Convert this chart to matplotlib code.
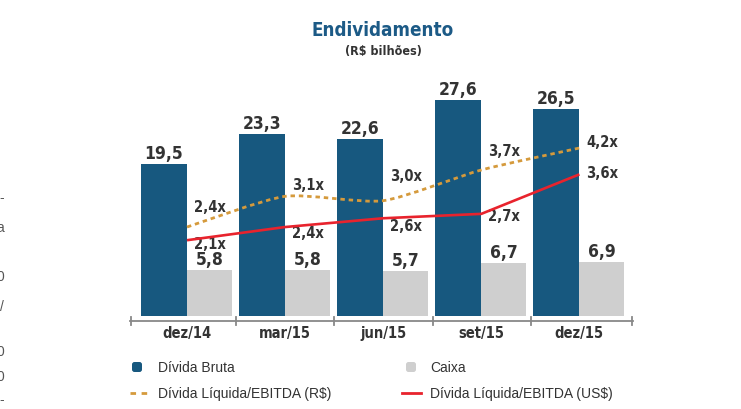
import matplotlib
matplotlib.use("Agg")
import matplotlib.pyplot as plt
from matplotlib.lines import Line2D
from matplotlib.patches import FancyBboxPatch, PathPatch
from matplotlib.path import Path
from matplotlib import font_manager as fm
from matplotlib import patheffects as pe

categories = ["dez/14", "mar/15", "jun/15", "set/15", "dez/15"]
divida_bruta = [19.5, 23.3, 22.6, 27.6, 26.5]
caixa = [5.8, 5.8, 5.7, 6.7, 6.9]
dl_ebitda_brl = [2.4, 3.1, 3.0, 3.7, 4.2]
dl_ebitda_usd = [2.1, 2.4, 2.6, 2.7, 3.6]

W, H = 741, 410
fig = plt.figure(figsize=(W / 100, H / 100), dpi=100)

TXT = "#333333"

def wnum(w):
    if isinstance(w, str):
        return fm.weight_dict.get(w, 400)
    return int(w)

cands = [f for f in fm.fontManager.ttflist
         if ("Narrow" in f.name or "Condensed" in f.name
             or "condensed" in str(f.stretch) or "narrow" in str(f.stretch))
         and f.style == "normal"]
bold_c = [f for f in cands if wnum(f.weight) >= 600]
if bold_c:
    bold_c.sort(key=lambda f: ("Liberation" not in f.name, abs(wnum(f.weight) - 700)))
    COND = fm.FontProperties(fname=bold_c[0].fname)
    FAUX = False
elif cands:
    cands.sort(key=lambda f: ("Liberation" not in f.name, abs(wnum(f.weight) - 400)))
    COND = fm.FontProperties(fname=cands[0].fname)
    FAUX = True
else:
    COND = fm.FontProperties(family="DejaVu Sans", weight="bold")
    FAUX = False

def ctext(size, color=TXT):
    fp = COND.copy()
    fp.set_size(size)
    kw = dict(fontproperties=fp, color=color)
    if FAUX:
        kw["path_effects"] = [pe.withStroke(linewidth=0.9, foreground=color)]
    return kw

REG = ["Liberation Sans", "DejaVu Sans"]

BLUE = "#17587f"
GREY = "#cfcfcf"
ORANGE = "#d59a3c"
RED = "#e8232d"

x0, x1 = 130, 633
ybot, ytop = 322, 60
rect = [x0 / W, (H - ybot) / H, (x1 - x0) / W, (ybot - ytop) / H]

ax_b = fig.add_axes(rect)          # bars (behind)
ax_l = ax_b.twinx()                 # lines (front)
ax_l.patch.set_visible(False)

n = len(categories)
xs = list(range(n))
step = 98.1
origin = 187
for a in (ax_l, ax_b):
    a.set_xlim(-(origin - x0) / step, (x1 - origin) / step)
    for s in a.spines.values():
        s.set_visible(False)
    a.set_yticks([])
    a.tick_params(left=False, right=False, bottom=False, labelbottom=False)

px_per_unit_bar = 7.8
ax_b.set_ylim(-5.3 / px_per_unit_bar, (ybot - ytop - 5.3) / px_per_unit_bar)
px_per_unit_line = 43.9
zero_px = 333.4
ax_l.set_ylim((zero_px - ybot) / px_per_unit_line, (zero_px - ytop) / px_per_unit_line)

bw_blue = 46 / step
bw_grey = 45 / step
ax_b.bar([x - bw_blue for x in xs], divida_bruta, width=bw_blue, align="edge", color=BLUE, zorder=3)
ax_b.bar(xs, caixa, width=bw_grey, align="edge", color=GREY, zorder=3)

for x, v in zip(xs, divida_bruta):
    ax_b.annotate(f"{v:.1f}".replace(".", ","), (x - bw_blue / 2, v), xytext=(0, 6),
                  textcoords="offset pixels", ha="center", va="baseline", **ctext(12.5))
for x, v in zip(xs, caixa):
    ax_b.annotate(f"{v:.1f}".replace(".", ","), (x + bw_grey / 2, v), xytext=(0, 6),
                  textcoords="offset pixels", ha="center", va="baseline", **ctext(12.5))

# mildly smoothed bezier path through the R$ points (drawing style only)
def smooth_path(px, py, t=0.22):
    verts = [(px[0], py[0])]
    codes = [Path.MOVETO]
    m = len(px)
    for i in range(m - 1):
        p0 = (px[max(i - 1, 0)], py[max(i - 1, 0)])
        p1 = (px[i], py[i])
        p2 = (px[i + 1], py[i + 1])
        p3 = (px[min(i + 2, m - 1)], py[min(i + 2, m - 1)])
        c1 = (p1[0] + (p2[0] - p0[0]) * t / 2, p1[1] + (p2[1] - p0[1]) * t / 2)
        c2 = (p2[0] - (p3[0] - p1[0]) * t / 2, p2[1] - (p3[1] - p1[1]) * t / 2)
        verts += [c1, c2, p2]
        codes += [Path.CURVE4] * 3
    return Path(verts, codes)

ax_l.add_patch(PathPatch(smooth_path(xs, dl_ebitda_brl), fill=False, edgecolor=ORANGE,
                         lw=2.0, ls=(0, (1.6, 1.4)), capstyle="butt", zorder=4))
ax_l.plot(xs, dl_ebitda_usd, color=RED, lw=1.9, solid_capstyle="butt", zorder=4)

off_brl = [21, 12, 25, 19, 7]
off_usd = [-3, -5, -7, -2, 2]
for x, v, o in zip(xs, dl_ebitda_brl, off_brl):
    ax_l.annotate(f"{v:.1f}x".replace(".", ","), (x + bw_grey / 2, v), xytext=(0, o),
                  textcoords="offset pixels", ha="center", va="center", **ctext(10.5))
for x, v, o in zip(xs, dl_ebitda_usd, off_usd):
    ax_l.annotate(f"{v:.1f}x".replace(".", ","), (x + bw_grey / 2, v), xytext=(0, o),
                  textcoords="offset pixels", ha="center", va="center", **ctext(10.5))

# x axis baseline and category boundary ticks
fy = (H - ybot) / H
fig.add_artist(Line2D([x0 / W, x1 / W], [fy, fy], color="#888888", lw=1.3))
for bx in [131, 236, 334, 433, 531, 632]:
    fig.add_artist(Line2D([bx / W, bx / W], [fy - 4 / H, fy + 4 / H], color="#888888", lw=1.3))
for i, c in enumerate(categories):
    ax_b.annotate(c, (xs[i], 0), xycoords=("data", "axes fraction"), xytext=(0, -12),
                  textcoords="offset pixels", ha="center", va="center",
                  annotation_clip=False, **ctext(10.5))

# title
fig.text(383 / W, (H - 30) / H, "Endividamento", ha="center", va="center", **ctext(13.5, "#1c5a86"))
fig.text(383 / W, (H - 51) / H, "(R$ bilhões)", ha="center", va="center", **ctext(9))

def ly(y):
    return (H - y) / H

def legend_box(cx, cy, color):
    s = 10
    fig.add_artist(FancyBboxPatch(((cx - s / 2) / 100, (H - cy - s / 2) / 100), s / 100, s / 100,
                                  boxstyle="round,pad=0,rounding_size=0.025",
                                  transform=fig.dpi_scale_trans, color=color, lw=0))

# legend
legend_box(137, 368, BLUE)
fig.text(158 / W, ly(368), "Dívida Bruta", ha="left", va="center", fontsize=10, family=REG, color=TXT)
legend_box(411, 368, GREY)
fig.text(430 / W, ly(368), "Caixa", ha="left", va="center", fontsize=10, family=REG, color=TXT)
fig.add_artist(Line2D([130 / W, 149 / W], [ly(394), ly(394)], color=ORANGE, lw=2, ls=(0, (2, 2))))
fig.text(158 / W, ly(394), "Dívida Líquida/EBITDA (R$)", ha="left", va="center", fontsize=10, family=REG, color=TXT)
fig.add_artist(Line2D([402 / W, 421 / W], [ly(394), ly(394)], color=RED, lw=2))
fig.text(430 / W, ly(394), "Dívida Líquida/EBITDA (US$)", ha="left", va="center", fontsize=10, family=REG, color=TXT)

# clipped fragments at the left page edge
frags = [("-", 198), ("a", 228), ("0", 277), ("/", 307), ("0", 352), ("0", 377), ("-", 400)]
for t, y in frags:
    fig.text(4 / W, ly(y), t, ha="right", va="center", fontsize=10, family=REG, color="#555555")

fig.savefig("out.png", dpi=100)
